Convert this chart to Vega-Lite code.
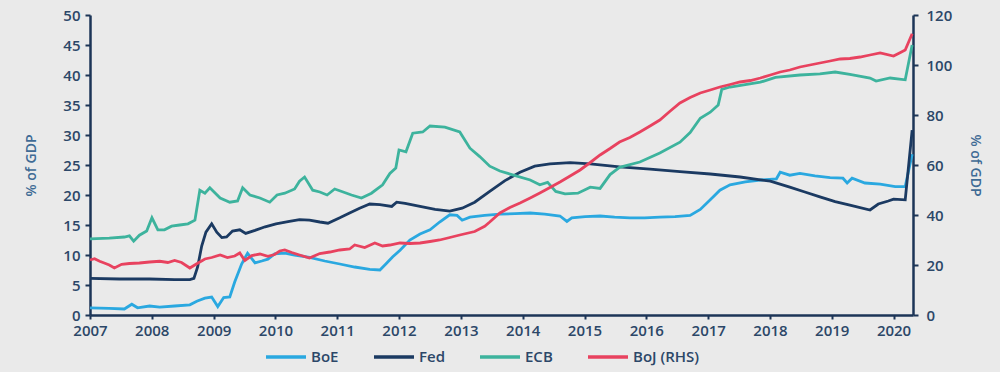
{
"$schema":"https://vega.github.io/schema/vega-lite/v6.json",
"width":823,"height":300,
"autosize":{"type":"none"},
"padding":{"left":90,"top":15,"right":87,"bottom":57},
"background":"#eaeaea",
"config":{"view":{"stroke":null},"font":"Open Sans",
"axis":{"grid":false,"domainColor":"#1c3557","domainWidth":2.5,"tickColor":"#1c3557","tickWidth":2,"tickSize":5,"labelColor":"#2c4768","labelFont":"Open Sans","labelFontSize":15,"labelFontWeight":600,"titleColor":"#3f6b95","titleFont":"Open Sans","titleFontSize":14,"titleFontWeight":600}},
"data":{"values":[
{"date":"2007-01-01","bank":"BoE","value":1.2},{"date":"2007-04-25","bank":"BoE","value":1.1},{"date":"2007-07-23","bank":"BoE","value":1.0},{"date":"2007-09-05","bank":"BoE","value":1.8},{"date":"2007-10-09","bank":"BoE","value":1.2},{"date":"2007-12-19","bank":"BoE","value":1.5},{"date":"2008-02-17","bank":"BoE","value":1.3},{"date":"2008-05-15","bank":"BoE","value":1.5},{"date":"2008-08-13","bank":"BoE","value":1.7},{"date":"2008-09-23","bank":"BoE","value":2.3},{"date":"2008-11-10","bank":"BoE","value":2.8},{"date":"2008-12-20","bank":"BoE","value":3.0},{"date":"2009-01-25","bank":"BoE","value":1.4},{"date":"2009-03-01","bank":"BoE","value":2.9},{"date":"2009-04-06","bank":"BoE","value":3.0},{"date":"2009-05-05","bank":"BoE","value":5.5},{"date":"2009-06-15","bank":"BoE","value":8.5},{"date":"2009-07-20","bank":"BoE","value":10.3},{"date":"2009-09-02","bank":"BoE","value":8.7},{"date":"2009-10-12","bank":"BoE","value":9.0},{"date":"2009-11-17","bank":"BoE","value":9.3},{"date":"2009-12-27","bank":"BoE","value":10.2},{"date":"2010-02-25","bank":"BoE","value":10.3},{"date":"2010-04-24","bank":"BoE","value":10.0},{"date":"2010-07-21","bank":"BoE","value":9.6},{"date":"2010-10-19","bank":"BoE","value":9.0},{"date":"2011-01-16","bank":"BoE","value":8.5},{"date":"2011-04-14","bank":"BoE","value":8.0},{"date":"2011-07-12","bank":"BoE","value":7.6},{"date":"2011-09-10","bank":"BoE","value":7.5},{"date":"2011-10-15","bank":"BoE","value":8.5},{"date":"2011-11-25","bank":"BoE","value":9.7},{"date":"2012-01-07","bank":"BoE","value":10.8},{"date":"2012-03-05","bank":"BoE","value":12.5},{"date":"2012-05-04","bank":"BoE","value":13.5},{"date":"2012-07-02","bank":"BoE","value":14.2},{"date":"2012-08-28","bank":"BoE","value":15.5},{"date":"2012-10-27","bank":"BoE","value":16.7},{"date":"2012-12-09","bank":"BoE","value":16.6},{"date":"2013-01-08","bank":"BoE","value":15.8},{"date":"2013-02-23","bank":"BoE","value":16.3},{"date":"2013-05-21","bank":"BoE","value":16.6},{"date":"2013-08-19","bank":"BoE","value":16.8},{"date":"2013-11-16","bank":"BoE","value":16.9},{"date":"2014-02-14","bank":"BoE","value":17.0},{"date":"2014-05-11","bank":"BoE","value":16.8},{"date":"2014-08-09","bank":"BoE","value":16.5},{"date":"2014-09-19","bank":"BoE","value":15.6},{"date":"2014-10-18","bank":"BoE","value":16.2},{"date":"2015-01-05","bank":"BoE","value":16.4},{"date":"2015-04-03","bank":"BoE","value":16.5},{"date":"2015-06-28","bank":"BoE","value":16.3},{"date":"2015-09-26","bank":"BoE","value":16.2},{"date":"2015-12-23","bank":"BoE","value":16.2},{"date":"2016-03-21","bank":"BoE","value":16.3},{"date":"2016-06-19","bank":"BoE","value":16.4},{"date":"2016-09-16","bank":"BoE","value":16.6},{"date":"2016-11-15","bank":"BoE","value":17.6},{"date":"2017-01-13","bank":"BoE","value":19.2},{"date":"2017-03-11","bank":"BoE","value":20.8},{"date":"2017-05-10","bank":"BoE","value":21.7},{"date":"2017-08-08","bank":"BoE","value":22.2},{"date":"2017-11-05","bank":"BoE","value":22.5},{"date":"2018-02-08","bank":"BoE","value":22.7},{"date":"2018-03-02","bank":"BoE","value":23.8},{"date":"2018-04-28","bank":"BoE","value":23.3},{"date":"2018-06-27","bank":"BoE","value":23.6},{"date":"2018-09-24","bank":"BoE","value":23.2},{"date":"2018-12-22","bank":"BoE","value":22.9},{"date":"2019-03-08","bank":"BoE","value":22.8},{"date":"2019-04-02","bank":"BoE","value":22.0},{"date":"2019-05-01","bank":"BoE","value":22.8},{"date":"2019-07-16","bank":"BoE","value":22.0},{"date":"2019-10-14","bank":"BoE","value":21.8},{"date":"2020-01-11","bank":"BoE","value":21.4},{"date":"2020-03-10","bank":"BoE","value":21.4},{"date":"2020-04-20","bank":"BoE","value":26.8},
{"date":"2007-01-01","bank":"Fed","value":6.1},{"date":"2007-06-24","bank":"Fed","value":6.0},{"date":"2007-12-19","bank":"Fed","value":6.0},{"date":"2008-05-15","bank":"Fed","value":5.9},{"date":"2008-08-13","bank":"Fed","value":5.9},{"date":"2008-09-06","bank":"Fed","value":6.1},{"date":"2008-09-28","bank":"Fed","value":8.0},{"date":"2008-10-22","bank":"Fed","value":11.5},{"date":"2008-11-16","bank":"Fed","value":13.8},{"date":"2008-12-20","bank":"Fed","value":15.2},{"date":"2009-01-19","bank":"Fed","value":13.8},{"date":"2009-02-18","bank":"Fed","value":12.9},{"date":"2009-03-18","bank":"Fed","value":13.0},{"date":"2009-04-22","bank":"Fed","value":14.0},{"date":"2009-06-04","bank":"Fed","value":14.2},{"date":"2009-07-09","bank":"Fed","value":13.6},{"date":"2009-09-02","bank":"Fed","value":14.1},{"date":"2009-11-01","bank":"Fed","value":14.7},{"date":"2010-01-04","bank":"Fed","value":15.2},{"date":"2010-03-24","bank":"Fed","value":15.6},{"date":"2010-05-23","bank":"Fed","value":15.9},{"date":"2010-07-21","bank":"Fed","value":15.8},{"date":"2010-09-20","bank":"Fed","value":15.5},{"date":"2010-11-07","bank":"Fed","value":15.3},{"date":"2011-01-16","bank":"Fed","value":16.2},{"date":"2011-03-15","bank":"Fed","value":17.0},{"date":"2011-05-13","bank":"Fed","value":17.8},{"date":"2011-07-12","bank":"Fed","value":18.5},{"date":"2011-09-10","bank":"Fed","value":18.4},{"date":"2011-11-19","bank":"Fed","value":18.1},{"date":"2011-12-18","bank":"Fed","value":18.8},{"date":"2012-02-06","bank":"Fed","value":18.6},{"date":"2012-05-04","bank":"Fed","value":18.1},{"date":"2012-08-01","bank":"Fed","value":17.6},{"date":"2012-10-27","bank":"Fed","value":17.3},{"date":"2013-01-08","bank":"Fed","value":17.8},{"date":"2013-03-23","bank":"Fed","value":18.8},{"date":"2013-06-20","bank":"Fed","value":20.6},{"date":"2013-09-18","bank":"Fed","value":22.4},{"date":"2013-12-16","bank":"Fed","value":23.8},{"date":"2014-03-13","bank":"Fed","value":24.8},{"date":"2014-06-11","bank":"Fed","value":25.2},{"date":"2014-10-08","bank":"Fed","value":25.4},{"date":"2015-02-04","bank":"Fed","value":25.2},{"date":"2015-07-27","bank":"Fed","value":24.7},{"date":"2016-01-23","bank":"Fed","value":24.3},{"date":"2016-07-18","bank":"Fed","value":23.9},{"date":"2017-01-13","bank":"Fed","value":23.5},{"date":"2017-07-08","bank":"Fed","value":23.0},{"date":"2018-01-03","bank":"Fed","value":22.3},{"date":"2018-04-28","bank":"Fed","value":21.3},{"date":"2018-07-26","bank":"Fed","value":20.5},{"date":"2018-10-23","bank":"Fed","value":19.7},{"date":"2019-01-21","bank":"Fed","value":18.9},{"date":"2019-04-18","bank":"Fed","value":18.3},{"date":"2019-08-15","bank":"Fed","value":17.5},{"date":"2019-10-03","bank":"Fed","value":18.5},{"date":"2019-12-01","bank":"Fed","value":19.0},{"date":"2020-01-01","bank":"Fed","value":19.3},{"date":"2020-03-10","bank":"Fed","value":19.2},{"date":"2020-04-20","bank":"Fed","value":30.8},
{"date":"2007-01-01","bank":"ECB","value":12.7},{"date":"2007-04-25","bank":"ECB","value":12.8},{"date":"2007-07-23","bank":"ECB","value":13.0},{"date":"2007-08-22","bank":"ECB","value":13.2},{"date":"2007-09-16","bank":"ECB","value":12.3},{"date":"2007-10-20","bank":"ECB","value":13.3},{"date":"2007-12-02","bank":"ECB","value":14.0},{"date":"2008-01-02","bank":"ECB","value":16.2},{"date":"2008-02-06","bank":"ECB","value":14.2},{"date":"2008-03-16","bank":"ECB","value":14.2},{"date":"2008-04-27","bank":"ECB","value":14.8},{"date":"2008-06-14","bank":"ECB","value":15.0},{"date":"2008-08-02","bank":"ECB","value":15.2},{"date":"2008-09-12","bank":"ECB","value":15.8},{"date":"2008-10-11","bank":"ECB","value":20.8},{"date":"2008-11-10","bank":"ECB","value":20.3},{"date":"2008-12-09","bank":"ECB","value":21.2},{"date":"2009-02-08","bank":"ECB","value":19.5},{"date":"2009-04-06","bank":"ECB","value":18.8},{"date":"2009-05-22","bank":"ECB","value":19.0},{"date":"2009-06-21","bank":"ECB","value":21.2},{"date":"2009-08-03","bank":"ECB","value":20.0},{"date":"2009-10-01","bank":"ECB","value":19.5},{"date":"2009-11-28","bank":"ECB","value":18.8},{"date":"2010-01-10","bank":"ECB","value":20.0},{"date":"2010-02-25","bank":"ECB","value":20.3},{"date":"2010-04-24","bank":"ECB","value":21.0},{"date":"2010-05-23","bank":"ECB","value":22.3},{"date":"2010-06-22","bank":"ECB","value":23.0},{"date":"2010-08-09","bank":"ECB","value":20.8},{"date":"2010-09-20","bank":"ECB","value":20.5},{"date":"2010-11-02","bank":"ECB","value":20.0},{"date":"2010-12-17","bank":"ECB","value":21.0},{"date":"2011-02-05","bank":"ECB","value":20.5},{"date":"2011-03-26","bank":"ECB","value":20.0},{"date":"2011-05-24","bank":"ECB","value":19.5},{"date":"2011-07-22","bank":"ECB","value":20.3},{"date":"2011-09-26","bank":"ECB","value":21.7},{"date":"2011-11-08","bank":"ECB","value":23.6},{"date":"2011-12-13","bank":"ECB","value":24.5},{"date":"2012-01-01","bank":"ECB","value":27.5},{"date":"2012-02-11","bank":"ECB","value":27.2},{"date":"2012-03-22","bank":"ECB","value":30.3},{"date":"2012-05-20","bank":"ECB","value":30.5},{"date":"2012-07-02","bank":"ECB","value":31.5},{"date":"2012-09-28","bank":"ECB","value":31.3},{"date":"2012-12-25","bank":"ECB","value":30.5},{"date":"2013-02-23","bank":"ECB","value":27.8},{"date":"2013-04-22","bank":"ECB","value":26.4},{"date":"2013-06-20","bank":"ECB","value":24.8},{"date":"2013-08-19","bank":"ECB","value":24.0},{"date":"2013-10-28","bank":"ECB","value":23.4},{"date":"2014-02-14","bank":"ECB","value":22.5},{"date":"2014-04-12","bank":"ECB","value":21.7},{"date":"2014-05-28","bank":"ECB","value":22.1},{"date":"2014-07-15","bank":"ECB","value":20.6},{"date":"2014-09-08","bank":"ECB","value":20.2},{"date":"2014-11-23","bank":"ECB","value":20.3},{"date":"2015-02-04","bank":"ECB","value":21.3},{"date":"2015-04-03","bank":"ECB","value":21.1},{"date":"2015-06-01","bank":"ECB","value":23.4},{"date":"2015-07-27","bank":"ECB","value":24.6},{"date":"2015-11-24","bank":"ECB","value":25.5},{"date":"2016-03-21","bank":"ECB","value":27.0},{"date":"2016-07-18","bank":"ECB","value":28.8},{"date":"2016-09-16","bank":"ECB","value":30.4},{"date":"2016-11-15","bank":"ECB","value":32.8},{"date":"2017-01-13","bank":"ECB","value":33.8},{"date":"2017-03-01","bank":"ECB","value":35.0},{"date":"2017-03-22","bank":"ECB","value":37.6},{"date":"2017-05-10","bank":"ECB","value":38.0},{"date":"2017-11-05","bank":"ECB","value":38.8},{"date":"2018-02-02","bank":"ECB","value":39.6},{"date":"2018-06-27","bank":"ECB","value":40.0},{"date":"2018-10-23","bank":"ECB","value":40.2},{"date":"2019-01-21","bank":"ECB","value":40.5},{"date":"2019-04-18","bank":"ECB","value":40.1},{"date":"2019-08-15","bank":"ECB","value":39.5},{"date":"2019-09-20","bank":"ECB","value":39.0},{"date":"2019-12-12","bank":"ECB","value":39.5},{"date":"2020-03-10","bank":"ECB","value":39.2},{"date":"2020-04-20","bank":"ECB","value":45.0},
{"date":"2007-01-01","bank":"BoJ (RHS)","value":22.0},{"date":"2007-01-28","bank":"BoJ (RHS)","value":22.5},{"date":"2007-02-27","bank":"BoJ (RHS)","value":21.5},{"date":"2007-03-26","bank":"BoJ (RHS)","value":20.8},{"date":"2007-04-25","bank":"BoJ (RHS)","value":20.0},{"date":"2007-05-25","bank":"BoJ (RHS)","value":18.8},{"date":"2007-07-07","bank":"BoJ (RHS)","value":20.3},{"date":"2007-08-22","bank":"BoJ (RHS)","value":20.6},{"date":"2007-10-20","bank":"BoJ (RHS)","value":20.8},{"date":"2007-12-19","bank":"BoJ (RHS)","value":21.2},{"date":"2008-02-17","bank":"BoJ (RHS)","value":21.5},{"date":"2008-04-05","bank":"BoJ (RHS)","value":21.0},{"date":"2008-05-15","bank":"BoJ (RHS)","value":21.8},{"date":"2008-06-25","bank":"BoJ (RHS)","value":21.0},{"date":"2008-08-13","bank":"BoJ (RHS)","value":18.8},{"date":"2008-09-23","bank":"BoJ (RHS)","value":20.5},{"date":"2008-11-10","bank":"BoJ (RHS)","value":22.4},{"date":"2008-12-20","bank":"BoJ (RHS)","value":23.0},{"date":"2009-02-08","bank":"BoJ (RHS)","value":24.0},{"date":"2009-03-23","bank":"BoJ (RHS)","value":23.0},{"date":"2009-05-05","bank":"BoJ (RHS)","value":23.6},{"date":"2009-06-04","bank":"BoJ (RHS)","value":24.8},{"date":"2009-07-04","bank":"BoJ (RHS)","value":21.8},{"date":"2009-08-14","bank":"BoJ (RHS)","value":23.8},{"date":"2009-10-01","bank":"BoJ (RHS)","value":24.4},{"date":"2009-11-17","bank":"BoJ (RHS)","value":23.5},{"date":"2009-12-27","bank":"BoJ (RHS)","value":24.2},{"date":"2010-01-26","bank":"BoJ (RHS)","value":25.6},{"date":"2010-02-25","bank":"BoJ (RHS)","value":26.0},{"date":"2010-04-07","bank":"BoJ (RHS)","value":25.0},{"date":"2010-05-23","bank":"BoJ (RHS)","value":24.0},{"date":"2010-07-21","bank":"BoJ (RHS)","value":22.8},{"date":"2010-09-20","bank":"BoJ (RHS)","value":24.6},{"date":"2010-11-18","bank":"BoJ (RHS)","value":25.2},{"date":"2011-01-16","bank":"BoJ (RHS)","value":26.0},{"date":"2011-03-15","bank":"BoJ (RHS)","value":26.4},{"date":"2011-04-14","bank":"BoJ (RHS)","value":28.0},{"date":"2011-06-12","bank":"BoJ (RHS)","value":27.0},{"date":"2011-08-11","bank":"BoJ (RHS)","value":28.8},{"date":"2011-09-26","bank":"BoJ (RHS)","value":27.6},{"date":"2011-11-08","bank":"BoJ (RHS)","value":28.0},{"date":"2012-01-07","bank":"BoJ (RHS)","value":28.8},{"date":"2012-03-05","bank":"BoJ (RHS)","value":28.6},{"date":"2012-05-04","bank":"BoJ (RHS)","value":28.8},{"date":"2012-07-02","bank":"BoJ (RHS)","value":29.4},{"date":"2012-08-28","bank":"BoJ (RHS)","value":30.0},{"date":"2012-10-27","bank":"BoJ (RHS)","value":31.0},{"date":"2012-12-25","bank":"BoJ (RHS)","value":32.0},{"date":"2013-03-23","bank":"BoJ (RHS)","value":33.4},{"date":"2013-05-21","bank":"BoJ (RHS)","value":35.5},{"date":"2013-06-20","bank":"BoJ (RHS)","value":37.2},{"date":"2013-08-19","bank":"BoJ (RHS)","value":40.8},{"date":"2013-10-17","bank":"BoJ (RHS)","value":43.0},{"date":"2013-12-16","bank":"BoJ (RHS)","value":44.8},{"date":"2014-02-14","bank":"BoJ (RHS)","value":46.8},{"date":"2014-04-12","bank":"BoJ (RHS)","value":48.8},{"date":"2014-06-11","bank":"BoJ (RHS)","value":51.0},{"date":"2014-08-09","bank":"BoJ (RHS)","value":53.2},{"date":"2014-10-08","bank":"BoJ (RHS)","value":55.6},{"date":"2014-12-06","bank":"BoJ (RHS)","value":58.0},{"date":"2015-02-04","bank":"BoJ (RHS)","value":61.0},{"date":"2015-04-03","bank":"BoJ (RHS)","value":64.0},{"date":"2015-06-01","bank":"BoJ (RHS)","value":66.6},{"date":"2015-07-27","bank":"BoJ (RHS)","value":69.2},{"date":"2015-09-26","bank":"BoJ (RHS)","value":71.0},{"date":"2015-11-24","bank":"BoJ (RHS)","value":73.2},{"date":"2016-01-23","bank":"BoJ (RHS)","value":75.6},{"date":"2016-03-21","bank":"BoJ (RHS)","value":78.0},{"date":"2016-05-20","bank":"BoJ (RHS)","value":81.5},{"date":"2016-07-18","bank":"BoJ (RHS)","value":84.8},{"date":"2016-09-16","bank":"BoJ (RHS)","value":87.0},{"date":"2016-11-15","bank":"BoJ (RHS)","value":88.8},{"date":"2017-01-13","bank":"BoJ (RHS)","value":90.0},{"date":"2017-03-11","bank":"BoJ (RHS)","value":91.2},{"date":"2017-05-10","bank":"BoJ (RHS)","value":92.2},{"date":"2017-07-08","bank":"BoJ (RHS)","value":93.2},{"date":"2017-09-07","bank":"BoJ (RHS)","value":93.8},{"date":"2017-11-05","bank":"BoJ (RHS)","value":94.8},{"date":"2018-01-03","bank":"BoJ (RHS)","value":96.0},{"date":"2018-03-02","bank":"BoJ (RHS)","value":97.2},{"date":"2018-04-28","bank":"BoJ (RHS)","value":98.0},{"date":"2018-06-27","bank":"BoJ (RHS)","value":99.2},{"date":"2018-08-25","bank":"BoJ (RHS)","value":100.0},{"date":"2018-10-23","bank":"BoJ (RHS)","value":100.8},{"date":"2018-12-22","bank":"BoJ (RHS)","value":101.6},{"date":"2019-02-20","bank":"BoJ (RHS)","value":102.4},{"date":"2019-04-18","bank":"BoJ (RHS)","value":102.6},{"date":"2019-06-17","bank":"BoJ (RHS)","value":103.2},{"date":"2019-08-15","bank":"BoJ (RHS)","value":104.0},{"date":"2019-10-14","bank":"BoJ (RHS)","value":104.8},{"date":"2020-01-01","bank":"BoJ (RHS)","value":103.6},{"date":"2020-02-11","bank":"BoJ (RHS)","value":105.0},{"date":"2020-03-10","bank":"BoJ (RHS)","value":106.0},{"date":"2020-04-20","bank":"BoJ (RHS)","value":112.5}
]},
"encoding":{
"x":{"field":"date","type":"temporal","title":null,
 "scale":{"type":"utc","domain":[{"year":2007,"month":1,"date":1,"utc":true},{"year":2020,"month":4,"date":25,"utc":true}]},
 "axis":{"format":"%Y","tickCount":{"interval":"year","step":1},"labelFlush":false,"labelOverlap":false,"labelPadding":4,"tickSize":4}},
"color":{"field":"bank","type":"nominal","title":null,
 "scale":{"domain":["BoE","Fed","ECB","BoJ (RHS)"],"range":["#2aa8e0","#1b3a62","#3db39d","#e8425f"]},
 "legend":{"orient":"none","legendX":174,"legendY":320,"direction":"horizontal","symbolType":"stroke","symbolSize":1600,"symbolStrokeWidth":3.5,"labelFont":"Open Sans","labelFontSize":15,"labelFontWeight":600,"labelColor":"#2c4768","columnPadding":28,"labelOffset":3,"rowPadding":0,"padding":0,"labelBaseline":"middle"}}
},
"layer":[
{"transform":[{"filter":"datum.bank !== 'BoJ (RHS)'"}],
 "mark":{"type":"line","strokeWidth":2.8},
 "encoding":{"y":{"field":"value","type":"quantitative","title":"% of GDP","scale":{"domain":[0,50],"nice":false},
  "axis":{"values":[0,5,10,15,20,25,30,35,40,45,50],"titlePadding":24,"labelPadding":5}}}},
{"transform":[{"filter":"datum.bank === 'BoJ (RHS)'"}],
 "mark":{"type":"line","strokeWidth":2.8},
 "encoding":{"y":{"field":"value","type":"quantitative","title":"% of GDP","scale":{"domain":[0,120],"nice":false},
  "axis":{"orient":"right","values":[0,20,40,60,80,100,120],"titlePadding":16,"labelPadding":8}}}}
],
"resolve":{"scale":{"y":"independent"}}
}
